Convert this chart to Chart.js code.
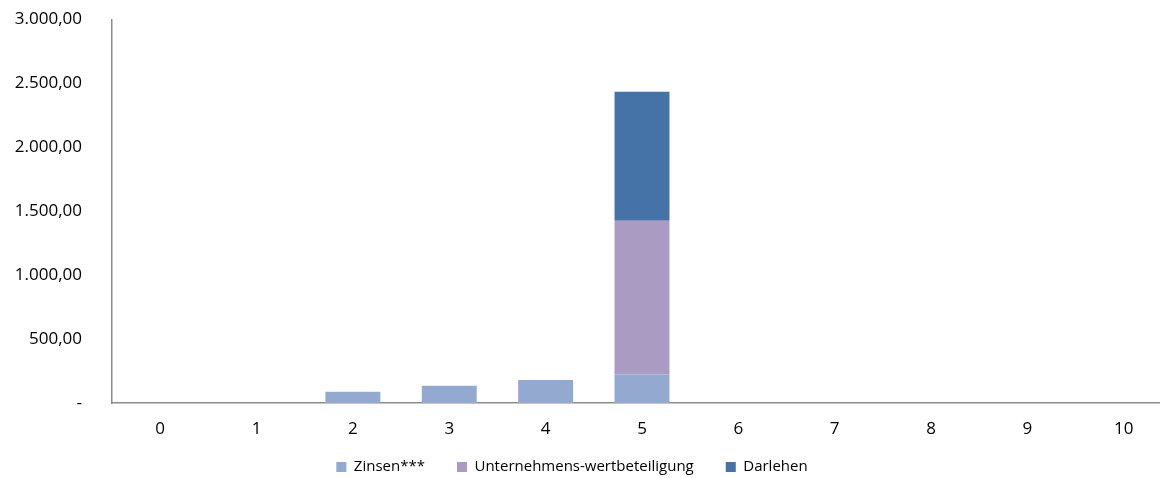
<!DOCTYPE html>
<html lang="de">
<head>
    <meta charset="UTF-8">
    <title>Zahlungen</title>
    <script src="https://cdn.jsdelivr.net/npm/chart.js"></script>
    <style>
        body {
            margin: 0;
            background: #fff;
            overflow: hidden;
        }
        #wrap {
            width: 1172px;
            height: 478px;
        }
    </style>
</head>
<body>
    <div id="wrap"><canvas id="chart"></canvas></div>

    <script>
        const years = ["0", "1", "2", "3", "4", "5", "6", "7", "8", "9", "10"];
        const zinsen = [0, 0, 88, 135, 180, 222, 0, 0, 0, 0, 0];
        const beteiligung = [0, 0, 0, 0, 0, 1203, 0, 0, 0, 0, 0];
        const darlehen = [0, 0, 0, 0, 0, 1010, 0, 0, 0, 0, 0];
        const yTicks = [0, 500, 1000, 1500, 2000, 2500, 3000];

        const axisColor = '#8c8c8c';
        const font = { family: "'Open Sans', sans-serif", size: 17 };

        function fmt(v) {
            if (v === 0) return '-';
            return v.toLocaleString('de-DE', { minimumFractionDigits: 2, maximumFractionDigits: 2 });
        }

        const bar = { barPercentage: 0.57, categoryPercentage: 1.0, borderWidth: 0 };

        // legend: smaller reserved height, then moved up/left to where the reference has it
        const legendPlace = {
            id: 'legendPlace',
            beforeInit(chart) {
                const fit = chart.legend.fit;
                chart.legend.fit = function () {
                    fit.call(this);
                    this.height = 22.6;
                };
            },
            afterLayout(chart) {
                const lg = chart.legend;
                lg.top = 427.5;
                lg.left -= 14;
                lg.right -= 14;
            }
        };

        new Chart(document.getElementById('chart'), {
            type: 'bar',
            data: {
                labels: years,
                datasets: [
                    { label: 'Zinsen***', data: zinsen, backgroundColor: '#94a9d0', ...bar },
                    { label: 'Unternehmens-wertbeteiligung', data: beteiligung, backgroundColor: '#a99bc1', ...bar },
                    { label: 'Darlehen', data: darlehen, backgroundColor: '#4572a7', ...bar }
                ]
            },
            plugins: [legendPlace],
            options: {
                responsive: true,
                maintainAspectRatio: false,
                animation: false,
                layout: { padding: { top: 19.5, left: 0, right: 0, bottom: 0 } },
                plugins: {
                    tooltip: { enabled: false },
                    legend: {
                        position: 'bottom',
                        labels: {
                            boxWidth: 10,
                            boxHeight: 10,
                            padding: 32,
                            color: '#000',
                            font: { family: "'Open Sans', sans-serif", size: 15 }
                        }
                    }
                },
                scales: {
                    x: {
                        stacked: true,
                        grid: { display: false, drawTicks: false },
                        border: { display: true, color: axisColor, width: 1.5 },
                        ticks: { color: '#000', font: font, padding: 16 }
                    },
                    y: {
                        stacked: true,
                        min: 0,
                        max: 3000,
                        afterBuildTicks: (axis) => { axis.ticks = yTicks.map(v => ({ value: v })); },
                        afterFit: (axis) => {
                            axis.width = 112;
                            axis.paddingTop = 0;
                            axis.paddingBottom = 0;
                        },
                        grid: { display: false, drawTicks: false },
                        border: { display: true, color: axisColor, width: 1.5 },
                        ticks: { color: '#000', font: font, padding: 30, callback: fmt }
                    }
                }
            }
        });
    </script>
</body>
</html>
